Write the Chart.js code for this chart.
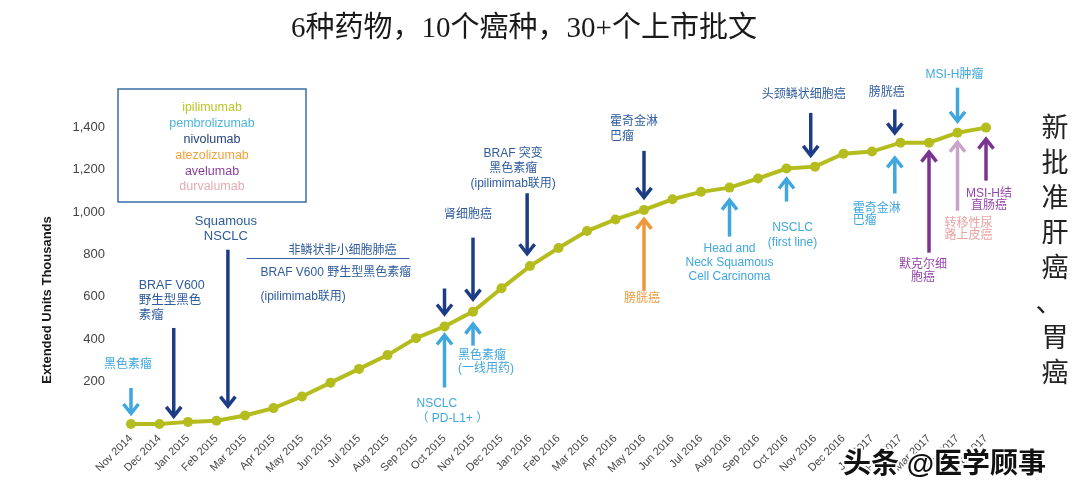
<!DOCTYPE html>
<html>
<head>
<meta charset="utf-8">
<script src="https://cdn.jsdelivr.net/npm/chart.js@4.4.0/dist/chart.umd.min.js"></script>
<style>
  html, body { margin: 0; padding: 0; background: #fff; }
  #wrap { width: 1080px; height: 494px; }
</style>
</head>
<body>
<div id="wrap"><canvas id="approvalChart" width="1080" height="494"></canvas></div>
<script>
const months = [
    "Nov 2014", "Dec 2014", "Jan 2015", "Feb 2015", "Mar 2015", "Apr 2015", "May 2015",
    "Jun 2015", "Jul 2015", "Aug 2015", "Sep 2015", "Oct 2015", "Nov 2015", "Dec 2015",
    "Jan 2016", "Feb 2016", "Mar 2016", "Apr 2016", "May 2016", "Jun 2016", "Jul 2016",
    "Aug 2016", "Sep 2016", "Oct 2016", "Nov 2016", "Dec 2016", "Jan 2017", "Feb 2017",
    "Mar 2017", "Apr 2017", "May 2017"
];
const extendedUnits = [
    0, 0, 10, 15, 40, 75, 130, 195, 260, 325, 405, 460, 530, 640, 745, 830, 910,
    965, 1010, 1060, 1095, 1115, 1158, 1205, 1214, 1275, 1285, 1327, 1327, 1374, 1398
];
const yTicks = [200, 400, 600, 800, 1000, 1200, 1400];
const drugNames = ["ipilimumab", "pembrolizumab", "nivolumab", "atezolizumab", "avelumab", "durvalumab"];
const chartTitle = "6种药物，10个癌种，30+个上市批文";
const sideNote = "新批准肝癌、胃癌";
const yTitle = "Extended Units Thousands";

const lineColor = "#b4bc1e";
const navy = "#1e3c85";
const steel = "#2f5c9c";
const sky = "#3fa6de";
const drugColors = ["#bcc62a", "#4db4e0", "#24437f", "#f1a33c", "#8d3f9f", "#e3abb2"];
const SANS = '"Liberation Sans", "Noto Sans CJK SC", sans-serif';

// approval arrows, anchored on the month index (fractions fall between two months)
// gap = distance of the tip from the line, len = shaft length
const arrows = [
    { i: 0,     dir: "down", gap: 9,  len: 27,  color: sky },
    { i: 1.5,   dir: "down", gap: 5,  len: 90,  color: navy },
    { i: 3.4,   dir: "down", gap: 11, len: 158, color: navy },
    { i: 11,    dir: "down", gap: 11, len: 27,  color: navy },
    { i: 11,    dir: "up",   gap: 7,  len: 54,  color: sky },
    { i: 12,    dir: "down", gap: 11, len: 63,  color: navy },
    { i: 12,    dir: "up",   gap: 11, len: 23,  color: sky },
    { i: 13.9,  dir: "down", gap: 13, len: 62,  color: navy },
    { i: 18,    dir: "down", gap: 11, len: 48,  color: navy },
    { i: 18,    dir: "up",   gap: 8,  len: 73,  color: "#ef983a" },
    { i: 21,    dir: "up",   gap: 11, len: 38,  color: sky },
    { i: 23,    dir: "up",   gap: 9,  len: 24,  color: sky },
    { i: 23.85, dir: "down", gap: 10, len: 44,  color: navy },
    { i: 26.8,  dir: "down", gap: 10, len: 25,  color: navy },
    { i: 26.8,  dir: "up",   gap: 12, len: 37,  color: sky },
    { i: 28,    dir: "up",   gap: 8,  len: 102, color: "#7a3390" },
    { i: 29,    dir: "up",   gap: 8,  len: 70,  color: "#c9a3c9" },
    { i: 29,    dir: "down", gap: 10, len: 35,  color: sky },
    { i: 30,    dir: "up",   gap: 10, len: 43,  color: "#7a3390" }
];

// labels, offset from the point on the line at month index i
const notes = [
    { i: 0,     dx: -3,   dy: -59,  lines: ["黑色素瘤"], color: sky },
    { i: 1.5,   dx: -35,  dy: -137, lines: ["BRAF V600", "野生型黑色", "素瘤"], color: steel, align: "left", lh: 15, size: 12.5 },
    { i: 3.4,   dx: -2,   dy: -197, lines: ["Squamous", "NSCLC"], color: steel, lh: 15, size: 13 },
    { i: 11,    dx: -102, dy: -76,  lines: ["非鳞状非小细胞肺癌"], color: steel, underline: [-198, -35] },
    { i: 11,    dx: -184, dy: -54,  lines: ["BRAF V600 野生型黑色素瘤"], color: steel, align: "left" },
    { i: 11,    dx: -184, dy: -30,  lines: ["(ipilimimab联用)"], color: steel, align: "left" },
    { i: 11,    dx: -28,  dy: 77,   lines: ["NSCLC", "（ PD-L1+ ）"], color: sky, align: "left", lh: 15 },
    { i: 12,    dx: -5,   dy: -97,  lines: ["肾细胞癌"], color: steel },
    { i: 12,    dx: -15,  dy: 44,   lines: ["黑色素瘤", "(一线用药)"], color: sky, align: "left", lh: 13 },
    { i: 13.9,  dx: -14,  dy: -115, lines: ["BRAF 突变", "黑色素瘤", "(ipilimimab联用)"], color: steel, lh: 15 },
    { i: 18,    dx: -34,  dy: -88,  lines: ["霍奇金淋", "巴瘤"], color: steel, align: "left", lh: 15 },
    { i: 18,    dx: -2,   dy: 89,   lines: ["膀胱癌"], color: "#ef983a" },
    { i: 21,    dx: 0,    dy: 61,   lines: ["Head and", "Neck Squamous", "Cell Carcinoma"], color: sky, lh: 14 },
    { i: 23,    dx: 6,    dy: 59,   lines: ["NSCLC", "(first line)"], color: sky, lh: 15 },
    { i: 23.85, dx: -7,   dy: -72,  lines: ["头颈鳞状细胞癌"], color: steel },
    { i: 26.8,  dx: -8,   dy: -52,  lines: ["膀胱癌"], color: steel },
    { i: 26.8,  dx: -42,  dy: 64,   lines: ["霍奇金淋", "巴瘤"], color: sky, align: "left", lh: 12 },
    { i: 28,    dx: -6,   dy: 122,  lines: ["默克尔细", "胞癌"], color: "#9446aa", lh: 13 },
    { i: 29,    dx: 11,   dy: 91,   lines: ["转移性尿", "路上皮癌"], color: "#e9a2a0", lh: 12 },
    { i: 29,    dx: -3,   dy: -58,  lines: ["MSI-H肿瘤"], color: sky },
    { i: 30,    dx: 3,    dy: 66,   lines: ["MSI-H结", "直肠癌"], color: "#9446aa", lh: 12 }
];

function valueAt(i) {
    const a = Math.floor(i), b = Math.min(a + 1, extendedUnits.length - 1);
    return extendedUnits[a] + (extendedUnits[b] - extendedUnits[a]) * (i - a);
}

function drawArrow(ctx, x, tipY, tailY, color) {
    const d = tipY > tailY ? 1 : -1;
    ctx.save();
    ctx.strokeStyle = color;
    ctx.lineWidth = 3.5;
    ctx.lineJoin = "miter";
    ctx.beginPath();
    ctx.moveTo(x, tailY);
    ctx.lineTo(x, tipY - d * 2);
    ctx.stroke();
    ctx.beginPath();
    ctx.moveTo(x - 7.5, tipY - d * 11);
    ctx.lineTo(x, tipY - d * 1.5);
    ctx.lineTo(x + 7.5, tipY - d * 11);
    ctx.stroke();
    ctx.restore();
}

const decorations = {
    id: "decorations",
    afterDatasetsDraw(chart) {
        const ctx = chart.ctx;
        const xs = chart.scales.x, ys = chart.scales.y;
        const px = i => xs.getPixelForValue(i);
        const py = i => ys.getPixelForValue(valueAt(i));

        arrows.forEach(a => {
            const s = a.dir === "down" ? -1 : 1;
            const tip = py(a.i) + s * a.gap;
            drawArrow(ctx, px(a.i), tip, tip + s * a.len, a.color);
        });

        ctx.save();
        ctx.textBaseline = "middle";
        notes.forEach(n => {
            const x = px(n.i) + n.dx, y = py(n.i) + n.dy;
            ctx.fillStyle = n.color;
            ctx.font = (n.size || 12) + "px " + SANS;
            ctx.textAlign = n.align || "center";
            n.lines.forEach((t, k) => ctx.fillText(t, x, y + k * (n.lh || 15)));
            if (n.underline) {
                ctx.strokeStyle = n.color;
                ctx.lineWidth = 1;
                ctx.beginPath();
                ctx.moveTo(px(n.i) + n.underline[0], y + 8);
                ctx.lineTo(px(n.i) + n.underline[1], y + 8);
                ctx.stroke();
            }
        });
        ctx.restore();
    },
    afterDraw(chart) {
        const ctx = chart.ctx;
        const area = chart.chartArea;
        ctx.save();
        ctx.textBaseline = "middle";
        ctx.textAlign = "center";

        // title
        ctx.fillStyle = "#1a1a1a";
        ctx.font = '29px "Liberation Serif", "Noto Sans CJK SC", serif';
        ctx.fillText(chartTitle, 524, 29);

        // drug legend box
        const bx = area.left - 13, by = area.top - 17;
        ctx.strokeStyle = "#3a6ca6";
        ctx.lineWidth = 1.5;
        ctx.strokeRect(bx, by, 188, 113);
        ctx.font = "12.5px " + SANS;
        drugNames.forEach((name, k) => {
            ctx.fillStyle = drugColors[k];
            ctx.fillText(name, bx + 94, by + 19 + k * 15.8);
        });

        // y axis title
        ctx.save();
        ctx.translate(47, 300);
        ctx.rotate(-Math.PI / 2);
        ctx.fillStyle = "#1a1a1a";
        ctx.font = "bold 13px " + SANS;
        ctx.fillText(yTitle, 0, 0);
        ctx.restore();

        // vertical note on the right
        ctx.fillStyle = "#222";
        ctx.font = '27px "Noto Sans CJK SC", serif';
        [...sideNote].forEach((ch, k) => {
            const dx = ch === "、" ? -6 : 0;
            ctx.fillText(ch, 1055 + dx, 127 + k * 35);
        });

        // watermark
        ctx.font = "bold 28px " + SANS;
        ctx.textAlign = "left";
        ctx.lineWidth = 4;
        ctx.strokeStyle = "#fff";
        ctx.strokeText("头条 @医学顾事", 843, 465);
        ctx.fillStyle = "#111";
        ctx.fillText("头条 @医学顾事", 843, 465);
        ctx.restore();
    }
};

const ctx = document.getElementById("approvalChart").getContext("2d");
new Chart(ctx, {
    type: "line",
    data: {
        labels: months,
        datasets: [{
            data: extendedUnits,
            borderColor: lineColor,
            backgroundColor: lineColor,
            borderWidth: 4,
            pointRadius: 5,
            pointBorderWidth: 0,
            pointBackgroundColor: lineColor,
            tension: 0,
            clip: false
        }]
    },
    options: {
        responsive: false,
        animation: false,
        layout: { padding: { top: 106, right: 94, left: 0, bottom: 0 } },
        plugins: { legend: { display: false }, tooltip: { enabled: false } },
        scales: {
            x: {
                grid: { display: false, drawTicks: false },
                border: { display: false },
                ticks: {
                    autoSkip: false, minRotation: 45, maxRotation: 45, padding: 8,
                    color: "#444", font: { family: SANS, size: 11 }
                },
                afterFit: s => { s.height = 70; }
            },
            y: {
                min: 0, max: 1500,
                grid: { display: false, drawTicks: false },
                border: { display: false },
                afterBuildTicks: s => { s.ticks = yTicks.map(v => ({ value: v })); },
                ticks: {
                    padding: 26, color: "#444", font: { family: SANS, size: 13 },
                    callback: v => v.toLocaleString("en-US")
                },
                afterFit: s => { s.width = 131; }
            }
        }
    },
    plugins: [decorations]
});
</script>
</body>
</html>
